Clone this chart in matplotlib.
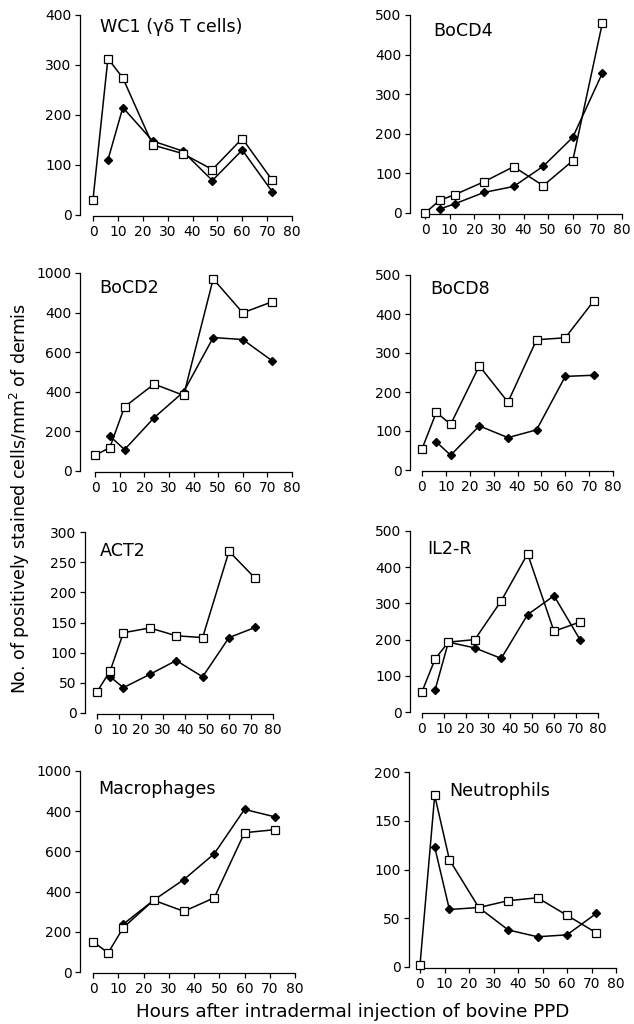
import matplotlib
matplotlib.use("Agg")
import matplotlib.pyplot as plt
import matplotlib.transforms as mtransforms

plt.rcParams['font.family'] = ['DejaVu Sans']

hours = [0, 6, 12, 24, 36, 48, 60, 72]
x_ticks = [0, 10, 20, 30, 40, 50, 60, 70, 80]

titles = ["WC1 (γδ T cells)", "BoCD4", "BoCD2", "BoCD8",
          "ACT2", "IL2-R", "Macrophages", "Neutrophils"]

wc1_open = [31, 313, 274, 140, 123, 91, 153, 70]
wc1_fill = [None, 110, 215, 148, 128, 69, 130, 47]
cd4_open = [0, 32, 46, 79, 117, 69, 132, 479]
cd4_fill = [None, 10, 23, 52, 67, 118, 191, 353]
cd2_open = [79, 118, 324, 439, 382, 970, 799, 855]
cd2_fill = [None, 177, 108, 269, 400, 674, 664, 556]
cd8_open = [54, 148, 117, 267, 174, 334, 339, 434]
cd8_fill = [None, 72, 38, 113, 83, 103, 240, 243]
act2_open = [35, 70, 133, 141, 128, 125, 268, 223]
act2_fill = [None, 60, 42, 64, 87, 60, 125, 142]
il2r_open = [56, 147, 193, 200, 307, 437, 223, 249]
il2r_fill = [None, 62, 193, 177, 148, 269, 321, 198]
mac_open = [151, 95, 221, 357, 302, 369, 693, 708]
mac_fill = [None, None, 238, 357, 460, 588, 809, 772]
neu_open = [2, 176, 110, 61, 68, 71, 53, 35]
neu_fill = [None, 123, 59, 61, 38, 31, 33, 55]

open_series = [wc1_open, cd4_open, cd2_open, cd8_open, act2_open, il2r_open, mac_open, neu_open]
fill_series = [wc1_fill, cd4_fill, cd2_fill, cd8_fill, act2_fill, il2r_fill, mac_fill, neu_fill]

y_ticks = [
    [0, 100, 200, 300, 400],
    [0, 100, 200, 300, 400, 500],
    [0, 200, 400, 600, 800, 1000],
    [0, 100, 200, 300, 400, 500],
    [0, 50, 100, 150, 200, 250, 300],
    [0, 100, 200, 300, 400, 500],
    [0, 200, 400, 600, 800, 1000],
    [0, 50, 100, 150, 200],
]
y_ticklabels = [
    None, None,
    ["0", "200", "400", "600", "400", "1000"],
    None, None, None,
    ["0", "200", "400", "600", "400", "1000"],
    None,
]

# pixel geometry: (y-spine x, x=0 px, x=80 px, y=max px, y=0 px)
geom = [
    (80, 93, 292, 15, 215),
    (410, 425, 622, 15, 213),
    (80, 95, 292, 273, 471),
    (410, 422, 613, 275, 470),
    (85, 97, 273, 532, 713),
    (410, 422, 598, 531, 712),
    (80, 93, 295, 771, 972),
    (409, 420, 616, 772, 967),
]
title_pos = [(3, 0.985), (3.2, 0.965), (1.6, 0.97), (3.3, 0.975),
             (1.4, 0.945), (2.3, 0.95), (2.0, 0.955), (12, 0.95)]

W, H = 634, 1024
fig = plt.figure(figsize=(W / 100, H / 100), dpi=100)

for i in range(8):
    ysp, x0, x80, ytop, ybot = geom[i]
    ax = fig.add_axes([x0 / W, 1 - ybot / H, (x80 - x0) / W, (ybot - ytop) / H])
    ymax = y_ticks[i][-1]
    ax.set_xlim(0, 80)
    ax.set_ylim(0, ymax)
    ax.patch.set_alpha(0)
    for s in ['top', 'right']:
        ax.spines[s].set_visible(False)
    ax.spines['left'].set_position(('outward', (x0 - ysp) * 0.72))
    ax.spines['bottom'].set_position(('outward', 1))
    ax.spines['left'].set_linewidth(0.9)
    ax.spines['bottom'].set_linewidth(0.9)
    ax.set_xticks(x_ticks)
    ax.set_yticks(y_ticks[i])
    if y_ticklabels[i] is not None:
        ax.set_yticklabels(y_ticklabels[i])
    ax.tick_params(axis='both', direction='out', length=3.5, width=0.9,
                   labelsize=10, pad=2.5, colors='black')

    fx = [h for h, v in zip(hours, fill_series[i]) if v is not None]
    fy = [v for v in fill_series[i] if v is not None]
    ax.plot(fx, fy, color='black', lw=1.1, marker='D', markersize=3.8,
            markerfacecolor='black', markeredgecolor='black', clip_on=False, zorder=3)
    ax.plot(hours, open_series[i], color='black', lw=1.1, marker='s', markersize=5.5,
            markerfacecolor='white', markeredgecolor='black', markeredgewidth=0.9,
            clip_on=False, zorder=4)

    trans = mtransforms.blended_transform_factory(ax.transData, ax.transAxes)
    tx, ty = title_pos[i]
    ax.text(tx, ty, titles[i], transform=trans, ha='left', va='top', fontsize=12.6)

fig.text(20 / W, 1 - 498 / H, "No. of positively stained cells/mm$^2$ of dermis",
         rotation=90, ha='center', va='center', fontsize=12.5)
fig.text(353 / W, 1 - 1012 / H, "Hours after intradermal injection of bovine PPD",
         ha='center', va='center', fontsize=13.2)

fig.savefig("out.png", dpi=100, facecolor='white')
